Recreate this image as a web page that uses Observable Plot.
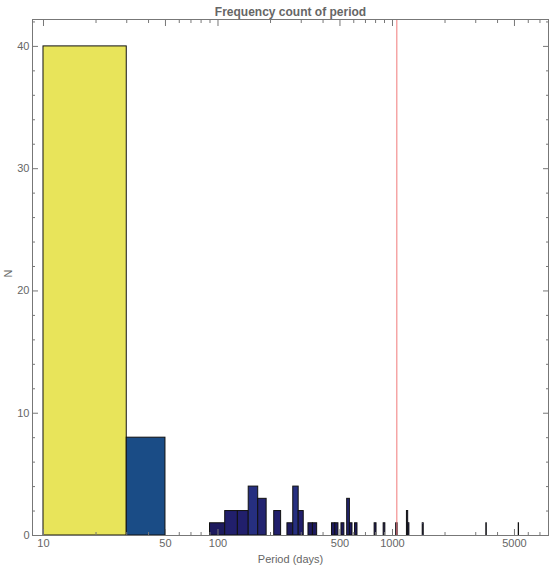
<!DOCTYPE html>
<html>
<head>
<meta charset="utf-8">
<script src="https://cdn.jsdelivr.net/npm/d3@7"></script>
<script src="https://cdn.jsdelivr.net/npm/@observablehq/plot@0.6"></script>
<style>
  html, body { margin: 0; padding: 0; background: #fff; }
</style>
</head>
<body>
<div id="chart"></div>
<script>
// Histogram bins (period in days), lower and upper edges, and counts
const binLo = [10, 30, 90, 110, 130, 150, 170, 210, 250, 270, 290, 330, 350, 450, 470, 510, 550, 570, 610, 790, 890, 1050, 1210, 1230, 1490, 3450, 5290];
const binHi = [30, 50, 110, 130, 150, 170, 190, 230, 270, 290, 310, 350, 370, 470, 490, 530, 570, 590, 630, 810, 910, 1070, 1230, 1250, 1510, 3470, 5310];
const counts = [40, 8, 1, 2, 2, 4, 3, 2, 1, 4, 2, 1, 1, 1, 1, 1, 3, 1, 1, 1, 1, 1, 2, 1, 1, 1, 1];

// Reference line
const refPeriod = [1059];

// Ticks
const xMajor = [10, 50, 100, 500, 1000, 5000];
const xMinor = [20, 30, 40, 60, 70, 80, 90, 200, 300, 400, 600, 700, 800, 900, 2000, 3000, 4000, 6000, 7000];
const yMajor = [0, 10, 20, 30, 40];
const yMinor = [2, 4, 6, 8, 12, 14, 16, 18, 22, 24, 26, 28, 32, 34, 36, 38, 42];

// Color by count
const colorCounts = [1, 2, 3, 4, 8, 40];
const colorValues = ["#1d1a5e", "#211f6c", "#232470", "#262f80", "#1a4c86", "#e8e45a"];

const data = binLo.map((lo, i) => ({lo, hi: binHi[i], n: counts[i]}));

const blank = () => "";

const chart = Plot.plot({
  width: 550,
  height: 569,
  marginLeft: 32,
  marginRight: 2,
  marginTop: 19,
  marginBottom: 34,
  style: {fontFamily: "Liberation Sans, Arial, sans-serif", fontSize: "11px", color: "#666", background: "#fff"},
  x: {type: "log", domain: [8.65, 7835]},
  y: {domain: [0, 42.2]},
  color: {type: "ordinal", domain: colorCounts, range: colorValues},
  marks: [
    Plot.rect(data, {x1: "lo", x2: "hi", y1: 0, y2: "n", fill: "n", stroke: "#111", strokeWidth: 1}),
    Plot.ruleX(refPeriod, {stroke: "#f07a7a", strokeWidth: 1}),
    Plot.frame({stroke: "#777"}),
    Plot.axisX({anchor: "bottom", ticks: xMajor, tickSize: -6, tickFormat: blank, label: null, stroke: "#777"}),
    Plot.text(xMajor, {x: d => d, frameAnchor: "bottom", dy: 11, text: d => String(d), fontSize: 11, fill: "#666"}),
    Plot.axisX({anchor: "bottom", ticks: xMinor, tickSize: -3, tickFormat: blank, label: null, stroke: "#777"}),
    Plot.axisX({anchor: "top", ticks: xMajor, tickSize: -6, tickFormat: blank, label: null, stroke: "#777"}),
    Plot.axisX({anchor: "top", ticks: xMinor, tickSize: -3, tickFormat: blank, label: null, stroke: "#777"}),
    Plot.axisY({anchor: "left", ticks: yMajor, tickSize: -6, tickPadding: 9, tickFormat: d => String(d), label: null, stroke: "#777", fill: "#666"}),
    Plot.axisY({anchor: "left", ticks: yMinor, tickSize: -3, tickFormat: blank, label: null, stroke: "#777"}),
    Plot.axisY({anchor: "right", ticks: yMajor, tickSize: -6, tickFormat: blank, label: null, stroke: "#777"}),
    Plot.axisY({anchor: "right", ticks: yMinor, tickSize: -3, tickFormat: blank, label: null, stroke: "#777"}),
    Plot.text(["Frequency count of period"], {frameAnchor: "top", dy: -12, fontWeight: "bold", fontSize: 12, fill: "#666"}),
    Plot.text(["Period (days)"], {frameAnchor: "bottom", dy: 27, fontSize: 11, fill: "#666"}),
    Plot.text(["N"], {frameAnchor: "left", dx: -24, rotate: -90, fontSize: 11, fill: "#666"})
  ]
});
document.getElementById("chart").appendChild(chart);
</script>
</body>
</html>
